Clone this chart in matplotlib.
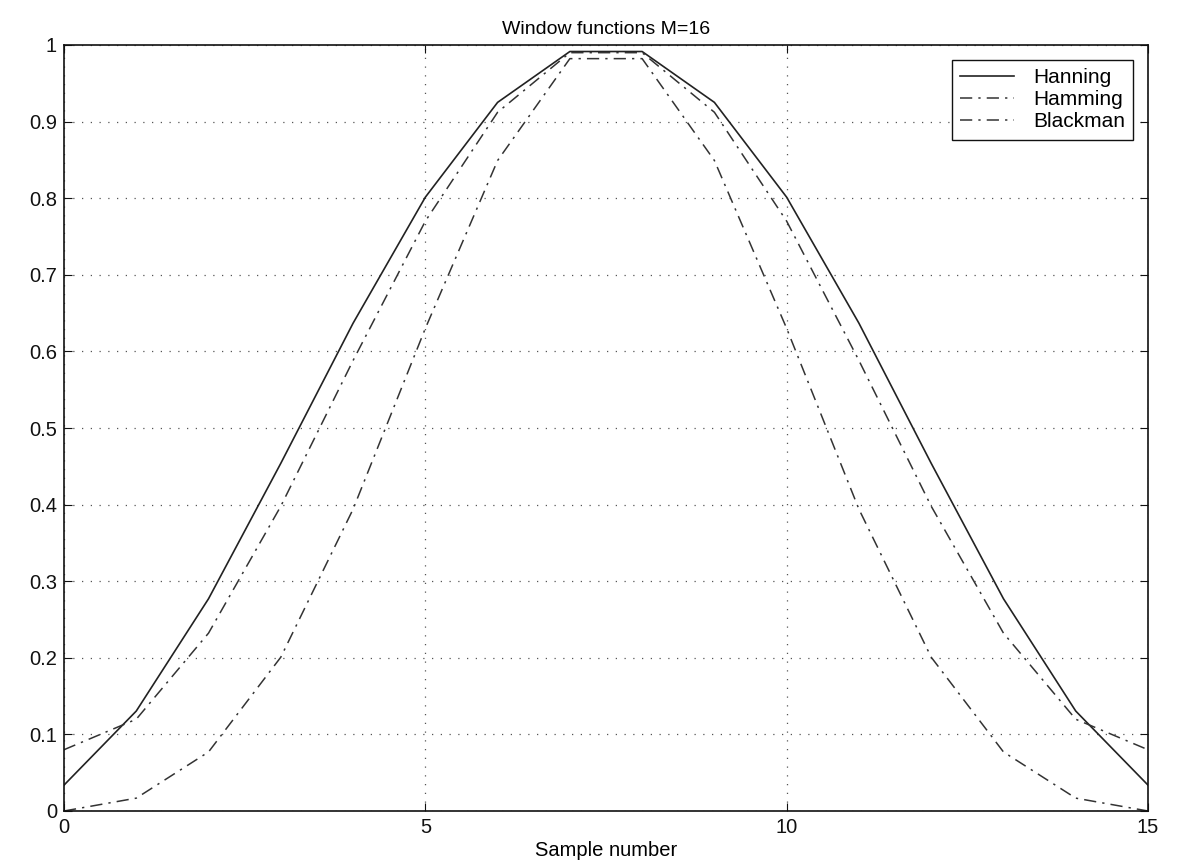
import matplotlib
matplotlib.use("Agg")
import matplotlib.pyplot as plt

plt.rcParams["font.family"] = ["Liberation Sans", "DejaVu Sans"]

samples = list(range(16))
hanning = [0.0338, 0.1305, 0.2771, 0.4539, 0.6368, 0.8013, 0.9251, 0.9915,
           0.9915, 0.9251, 0.8013, 0.6368, 0.4539, 0.2771, 0.1305, 0.0338]
hamming = [0.0800, 0.1198, 0.2322, 0.3979, 0.5881, 0.7700, 0.9122, 0.9900,
           0.9900, 0.9122, 0.7700, 0.5881, 0.3979, 0.2322, 0.1198, 0.0800]
blackman = [0.0000, 0.0168, 0.0771, 0.2008, 0.3940, 0.6300, 0.8492, 0.9822,
            0.9822, 0.8492, 0.6300, 0.3940, 0.2008, 0.0771, 0.0168, 0.0000]

fig = plt.figure(figsize=(11.8, 8.68), dpi=100)
ax = fig.add_axes([64 / 1180, 1 - 811 / 868, (1148 - 64) / 1180, (811 - 45) / 868])

ax.plot(samples, hanning, color="#222222", lw=1.2, ls="-", label="Hanning")
ax.plot(samples, hamming, color="#333333", lw=1.1, ls=(0, (8, 4, 1.5, 4)), label="Hamming")
ax.plot(samples, blackman, color="#333333", lw=1.1, ls=(0, (8, 4, 1.5, 4)), label="Blackman")

ax.set_xlim(0, 15)
ax.set_ylim(0, 1)
ax.set_xticks([0, 5, 10, 15])
ax.set_yticks([i / 10 for i in range(11)])
ax.set_yticklabels(["0", "0.1", "0.2", "0.3", "0.4", "0.5", "0.6", "0.7", "0.8", "0.9", "1"])
ax.grid(True, ls=(0, (1, 6)), color="#555555", lw=0.9)
ax.tick_params(direction="in", top=True, right=True, length=6, labelsize=14.5,
               colors="#111111", pad=5)
for s in ax.spines.values():
    s.set_linewidth(1.2)
    s.set_color("#111111")

ax.set_title("Window functions M=16", fontsize=14, pad=8)
ax.set_xlabel("Sample number", fontsize=14.5, labelpad=3)

leg = ax.legend(loc="upper right", fontsize=15, fancybox=False, framealpha=1,
                edgecolor="#111111", handlelength=2.6, handletextpad=0.9,
                borderaxespad=0.7, labelspacing=0.15, borderpad=0.4)
leg.get_frame().set_linewidth(1.0)

fig.savefig("out.png", dpi=100)
